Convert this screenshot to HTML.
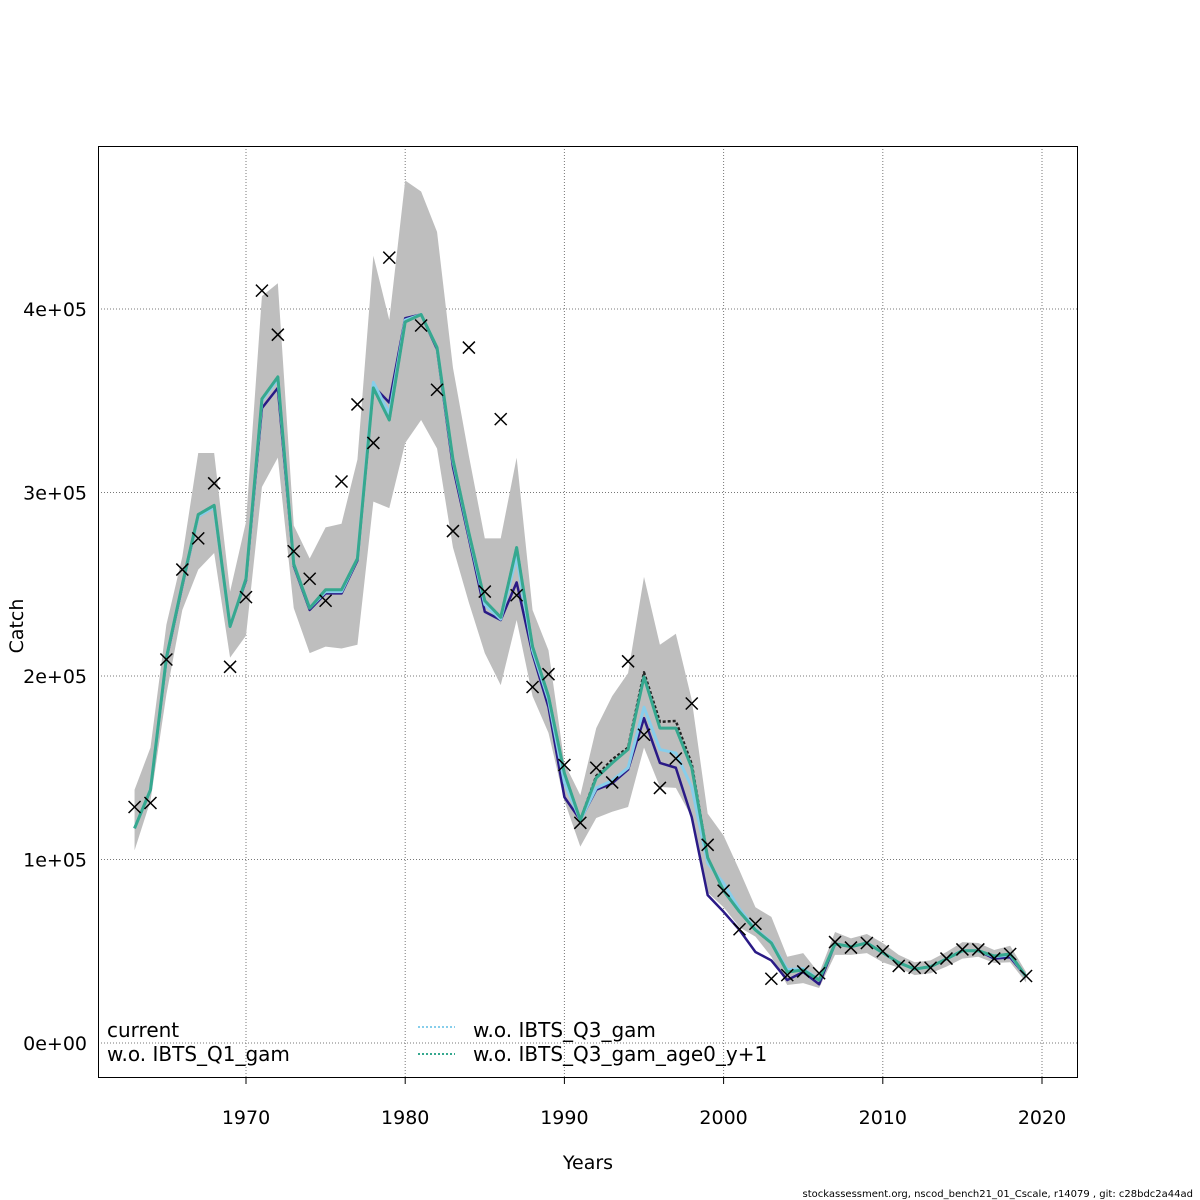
<!DOCTYPE html>
<html><head><meta charset="utf-8"><style>
body{margin:0;background:#fff}
svg{display:block;font-family:"DejaVu Sans","Liberation Sans",sans-serif}
</style></head><body>
<svg id="chart" width="1200" height="1200" viewBox="0 0 1200 1200">
<rect x="0" y="0" width="1200" height="1200" fill="#fff"/>
<g id="grid"></g>
<g id="band"></g>
<g id="lines"></g>
<g id="obs"></g>
<g id="axes"></g>
<rect x="98.5" y="146.5" width="979" height="931" fill="none" stroke="#000" stroke-width="1"/>
<text x="588" y="1169" font-size="19" text-anchor="middle">Years</text>
<text x="23" y="626" font-size="19" text-anchor="middle" transform="rotate(-90 23 626)">Catch</text>
<g font-size="20">
<text x="107" y="1037">current</text>
<text x="107" y="1061">w.o. IBTS_Q1_gam</text>
<line x1="418" y1="1027" x2="455" y2="1027" stroke="#87ceeb" stroke-width="2" stroke-dasharray="2,2"/>
<text x="473" y="1037">w.o. IBTS_Q3_gam</text>
<line x1="418" y1="1054" x2="455" y2="1054" stroke="#36a88f" stroke-width="2" stroke-dasharray="2,2"/>
<text x="473" y="1061">w.o. IBTS_Q3_gam_age0_y+1</text>
</g>
<text x="1193" y="1197" font-size="10" text-anchor="end">stockassessment.org, nscod_bench21_01_Cscale, r14079 , git: c28bdc2a44ad</text>
</svg>
<script>
const years = [1963,1964,1965,1966,1967,1968,1969,1970,1971,1972,1973,1974,1975,1976,1977,1978,1979,1980,1981,1982,1983,1984,1985,1986,1987,1988,1989,1990,1991,1992,1993,1994,1995,1996,1997,1998,1999,2000,2001,2002,2003,2004,2005,2006,2007,2008,2009,2010,2011,2012,2013,2014,2015,2016,2017,2018,2019];
const observed = [128.6,130.8,209,258,275,305,205,243,410,386,268,253,241,306,348,327,428,null,391,356,279,379,246,340,244,194,201,151.5,120,150,142,208,168,139,155,185,108,83,62,65,35,37,39,38,55,52,54.5,50,42,41,41,46,51,51,46,48.5,36.5];
const ageZero = [117,138,210,250,288,293,227,253,351,363,261,237,247,247,264,357,339.5,393,397,379,318,278,241,232,270,216,189,147,121.5,144.5,152.6,160,199.5,171.6,171.6,150,101,83,71.5,61.6,54.5,38.7,39.8,34.3,54,52.5,54.5,49.2,43.8,40.3,41.6,45.8,50.3,50.3,47.4,48.5,36.1];
const q1gam = [117,138,210,250,288,293,227,253,351,363,261,237,247,247,264,357,339.5,393,397,379,318,278,241,232,270,216,189,147,121.5,145.5,154.5,161,202,175,175.5,152,101,83,71.5,61.6,54.5,38.7,39.8,34.3,54,52.5,54.5,49.2,43.8,40.3,41.6,45.8,50.3,50.3,47.4,48.5,36.1];
const q3gam = [117,138,210,250,287,292,227,253,350,362,261,237,246,246,264,360,343,394,397,379,317,277,239,231,265,214,187,142,121.5,139,143,150,183,160,158,139.5,98,87,73,62,55,40,40.5,34.5,54,52.5,54.5,49.2,43.8,40.3,41.6,45.8,50.3,50.3,47,48,36.1];
const current = [117,138,209,249,287,292,227,252,346,357,260,236,245,245,263,358,349,395,397,378,314,275,235,230.5,251,212,183,134,121.5,138,141.5,149,177,152.6,150,123,80.6,71.5,61.6,49.6,45,34.3,38.7,32,54,52.5,54.5,49.2,43.8,40.3,41.6,45.8,50.3,50.3,46,46.7,36.1];
const upper = [138,161,228,265,321.5,321.5,246,284,407,414,282,264,281,283,318,429,394,470,464,442,368,320,275,275,319,236,214,152.6,135,171.6,189,201.6,254,217,223,187,125,113,94,74,68.7,47,49,38,60.5,57,59.4,54.5,48,44,45,49.6,55,54.5,50.7,53,38.7];
const lower = [105,132,190,236,258,267,210,222,303,319,237,212.5,216,215,217,295,291.5,327,339.5,324,270,240,212.5,195,230.5,189,169,132,107,122.6,126,128.6,161,139.5,139,123,82,74,63,58,47,31.6,32.6,30,48,48,49,44,41,37,38,41.6,46,47,43.6,44,33];
const xTicks = [1970,1980,1990,2000,2010,2020];
const yTicks = [0,100,200,300,400];
const yTickLabels = ["0e+00","1e+05","2e+05","3e+05","4e+05"];

const NS = "http://www.w3.org/2000/svg";
const X0 = 98, X1 = 1077, Y0 = 146, Y1 = 1077;
function xs(yr){ return 246 + (yr - 1970) * (1042 - 246) / 50; }
function ys(v){ return 1043 - v * (1043 - 309) / 400; }
function mk(tag, attrs, parent){
  const e = document.createElementNS(NS, tag);
  for (const k in attrs) e.setAttribute(k, attrs[k]);
  parent.appendChild(e); return e;
}
const grid = document.getElementById('grid');
const axes = document.getElementById('axes');
xTicks.forEach((t, i) => {
  const x = xs(t);
  const g = mk('line', {x1:x, y1:Y0, x2:x, y2:Y1, stroke:'#777', 'stroke-width':1, 'stroke-dasharray':'1,2'}, grid);
  
  
  const tk = mk('line', {x1:x, y1:Y1, x2:x, y2:Y1 + 7, stroke:'#000'}, axes);
  
  
  const lb = mk('text', {x:x, y:1124, 'font-size':19, 'text-anchor':'middle'}, axes);
  lb.textContent = t;
  
  
});
yTicks.forEach((t, i) => {
  const y = ys(t);
  const g = mk('line', {x1:X0, y1:y, x2:X1, y2:y, stroke:'#777', 'stroke-width':1, 'stroke-dasharray':'1,2'}, grid);
  
  
  const lb = mk('text', {x:87, y:y + 7, 'font-size':19, 'text-anchor':'end'}, axes);
  lb.textContent = yTickLabels[i];
  
  
});
let pts = years.map((yr, i) => xs(yr) + ',' + ys(upper[i]));
for (let i = years.length - 1; i >= 0; i--) pts.push(xs(years[i]) + ',' + ys(lower[i]));
const bp = mk('polygon', {points: pts.join(' '), fill:'#bebebe', stroke:'none'}, document.getElementById('band'));


const lines = document.getElementById('lines');
function drawLine(arr, color, w, dash, name){
  const p = mk('polyline', {points: years.map((yr, i) => xs(yr) + ',' + ys(arr[i])).join(' '), fill:'none', stroke:color, 'stroke-width':w, 'stroke-linejoin':'round'}, lines);
  if (dash) p.setAttribute('stroke-dasharray', dash);
  
  
}
drawLine(current, '#2a1a86', 2.5, null, 'line-current');
drawLine(q1gam, '#222', 2.5, '3,2', 'line-wo-q1-gam');
drawLine(q3gam, '#87ceeb', 3, null, 'line-wo-q3-gam');
drawLine(ageZero, '#36a88f', 3, null, 'line-wo-q3-gam-age0');
const obs = document.getElementById('obs');
years.forEach((yr, i) => {
  if (observed[i] == null) return;
  const x = xs(yr), y = ys(observed[i]), s = 6;
  const p = mk('path', {d:`M${x-s},${y-s}L${x+s},${y+s}M${x-s},${y+s}L${x+s},${y-s}`, stroke:'#000', 'stroke-width':1.5, fill:'none'}, obs);
  
  
});
</script>
</body></html>
